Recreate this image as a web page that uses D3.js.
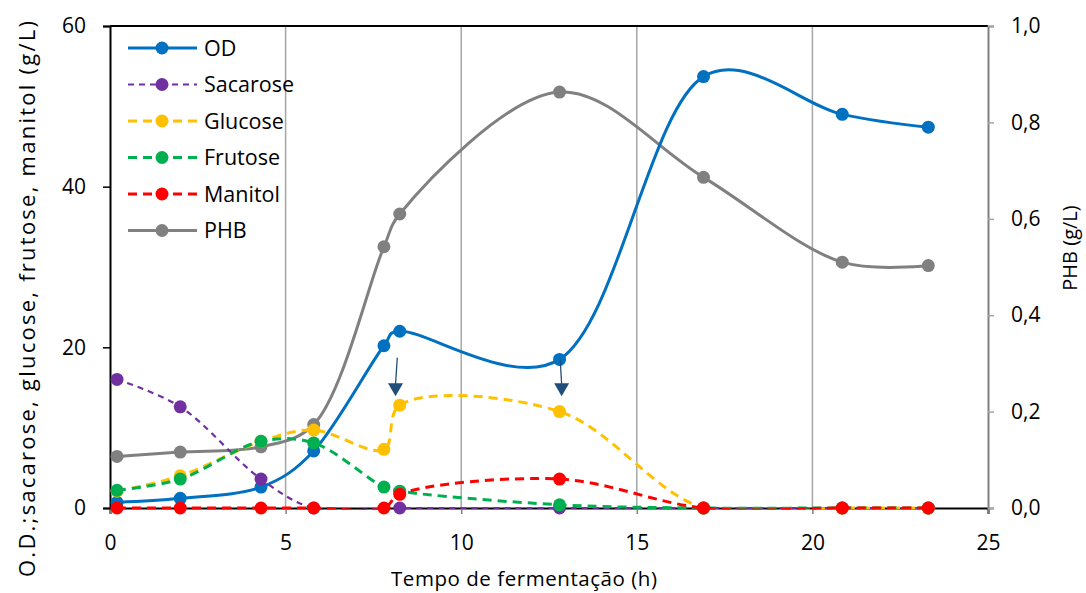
<!DOCTYPE html>
<html><head><meta charset="utf-8">
<script src="https://cdn.jsdelivr.net/npm/d3@7"></script>
<style>body{margin:0;background:#fff}svg{display:block;font-family:"Open Sans",sans-serif}</style>
</head><body><svg id="c" width="1086" height="593"></svg>
<script>
const time = [0.2, 2.0, 4.3, 5.8, 7.8, 8.25, 12.8, 16.9, 20.85, 23.3];
const od       = [0.7, 1.2, 2.6, 7.1, 20.2, 22.0, 18.5, 53.7, 49.0, 47.4];
const sacarose = [16.0, 12.6, 3.6, 0.0, null, 0.0, 0.0, 0.0, 0.0, 0.0];
const glucose  = [2.1, 4.0, 8.3, 9.7, 7.3, 12.8, 12.0, 0.0, 0.0, 0.0];
const frutose  = [2.2, 3.6, 8.3, 8.1, 2.6, 2.1, 0.4, 0.0, 0.0, 0.0];
const manitol  = [0.0, 0.0, 0.0, 0.0, 0.0, 1.7, 3.6, 0.0, 0.0, 0.0];
const phb      = [0.107, 0.116, 0.127, 0.173, 0.542, 0.61, 0.863, 0.686, 0.51, 0.503];
const xTicks = [0, 5, 10, 15, 20, 25];
const yLeftTicks = [0, 20, 40, 60];
const yRightTicks = [0, 0.2, 0.4, 0.6, 0.8, 1.0];
const arrows = [{t0: 8.18, v0: 18.7, t1: 8.13, v1: 13.9}, {t0: 12.82, v0: 18.4, t1: 12.86, v1: 13.9}];

const series = [
  {name: "OD", values: od, color: "#0070c0", axis: "L", dash: null, w: 3, alpha: 0.3},
  {name: "Sacarose", values: sacarose, color: "#7030a0", axis: "L", dash: "6,5", w: 2.2, alpha: 0.5},
  {name: "Glucose", values: glucose, color: "#ffc000", axis: "L", dash: "9,6", w: 3, alpha: 0.5},
  {name: "Frutose", values: frutose, color: "#00b050", axis: "L", dash: "9,6", w: 3, alpha: 0.5},
  {name: "Manitol", values: manitol, color: "#ff0000", axis: "L", dash: "9,6", w: 3, alpha: 0.5},
  {name: "PHB", values: phb, color: "#808080", axis: "R", dash: null, w: 3, alpha: 0.5}
];

const svg = d3.select("#c");
const L = 110, R = 988, T = 26, B = 508;
const x = d3.scaleLinear().domain([0, 25]).range([L, R]);
const yL = d3.scaleLinear().domain([0, 60]).range([B, T]);
const yR = d3.scaleLinear().domain([0, 1]).range([B, T]);

svg.append("defs").append("clipPath").attr("id", "clip")
  .append("rect").attr("x", L).attr("y", 0).attr("width", R - L + 20).attr("height", B + 1.5);

// grid
svg.append("g").selectAll("line").data(xTicks.filter(d => d > 0 && d < 25)).join("line")
  .attr("x1", d => x(d)).attr("x2", d => x(d)).attr("y1", T).attr("y2", B)
  .attr("stroke", "#a6a6a6").attr("stroke-width", 1.5);

// top border
svg.append("line").attr("x1", L).attr("x2", R).attr("y1", T).attr("y2", T).attr("stroke", "#000").attr("stroke-width", 2);

// axes
const gx = svg.append("g").attr("transform", `translate(0,${B})`)
  .call(d3.axisBottom(x).tickValues(xTicks).tickSize(6).tickPadding(21).tickFormat(d3.format("d")));
const gl = svg.append("g").attr("transform", `translate(${L},0)`)
  .call(d3.axisLeft(yL).tickValues(yLeftTicks).tickSize(7).tickPadding(17));
const gr = svg.append("g").attr("transform", `translate(${R},0)`)
  .call(d3.axisRight(yR).tickValues(yRightTicks).tickSize(6).tickPadding(17).tickFormat(d => d3.format(".1f")(d).replace(".", ",")));
[gx, gl, gr].forEach(g => {
  g.select(".domain").attr("stroke-width", 2);
  g.selectAll("text").attr("font-size", 21).attr("fill", "#000").attr("font-family", "Open Sans");
});
gx.select(".domain").attr("stroke", "#000");
gx.selectAll(".tick line").attr("stroke", "#808080").attr("stroke-width", 1.5);
gl.selectAll(".tick line").attr("stroke", "#000").attr("stroke-width", 1.5);
gr.select(".domain").attr("stroke", "#808080");
gr.selectAll(".tick line").attr("stroke", "#a6a6a6").attr("stroke-width", 1.5);

// lines
const order = [5, 0, 1, 2, 3, 4];
const plot = svg.append("g");
order.forEach(i => {
  const s = series[i];
  const ys = s.axis === "L" ? yL : yR;
  const pts = time.map((t, k) => [t, s.values[k]]).filter(p => p[1] !== null);
  plot.append("path").datum(pts)
    .attr("clip-path", "url(#clip)")
    .attr("d", d3.line().x(p => x(p[0])).y(p => ys(p[1])).curve(d3.curveCatmullRom.alpha(s.alpha)))
    .attr("fill", "none").attr("stroke", s.color).attr("stroke-width", s.w)
    .attr("stroke-dasharray", s.dash);
  plot.append("g").selectAll("circle").data(pts).join("circle")
    .attr("cx", p => x(p[0])).attr("cy", p => ys(p[1])).attr("r", 6.5).attr("fill", s.color);
});

// arrows
const ac = "#1f4e79";
arrows.forEach(a => {
  const x0 = x(a.t0), y0 = yL(a.v0), x1 = x(a.t1), y1 = yL(a.v1);
  svg.append("line").attr("x1", x0).attr("y1", y0).attr("x2", x1).attr("y2", y1 - 12)
    .attr("stroke", ac).attr("stroke-width", 1.3);
  svg.append("path").attr("d", `M${x1 - 7.5},${y1 - 13}L${x1 + 7.5},${y1 - 13}L${x1},${y1}Z`).attr("fill", ac);
});

// legend
const lg = svg.append("g");
series.forEach((s, i) => {
  const yy = 48 + i * 36.5;
  lg.append("line").attr("x1", 128).attr("x2", 197).attr("y1", yy).attr("y2", yy)
    .attr("stroke", s.color).attr("stroke-width", s.w).attr("stroke-dasharray", s.dash);
  lg.append("circle").attr("cx", 162).attr("cy", yy).attr("r", 6.5).attr("fill", s.color);
  lg.append("text").attr("x", 204).attr("y", yy + 7.5).attr("font-size", 21.5).text(s.name);
});

// titles
svg.append("text").attr("x", 524).attr("y", 586).attr("text-anchor", "middle").attr("font-size", 20.5)
  .attr("textLength", 266).attr("lengthAdjust", "spacing").text("Tempo  de fermentação  (h)");
svg.append("text").attr("transform", "translate(35,299) rotate(-90)").attr("text-anchor", "middle").attr("font-size", 22)
  .attr("textLength", 556).attr("lengthAdjust", "spacing").text("O.D.;sacarose, glucose, frutose, manitol (g/L)");
svg.append("text").attr("transform", "translate(1077,248) rotate(-90)").attr("text-anchor", "middle").attr("font-size", 20)
  .text("PHB (g/L)");
</script></body></html>
